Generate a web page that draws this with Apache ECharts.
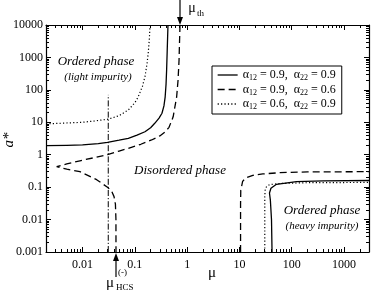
<!DOCTYPE html>
<html><head><meta charset="utf-8">
<script src="https://cdn.jsdelivr.net/npm/echarts@6/dist/echarts.min.js"></script>
<style>html,body{margin:0;padding:0;background:#fff}#c{width:374px;height:292px}</style>
</head><body><div id="c"></div>
<script>
// ---- data ----
const muRange = [0.002, 3000];
const aRange = [0.001, 10000];
const xMajor = [0.01, 0.1, 1, 10, 100, 1000];
const xLabels = ['0.01', '0.1', '1', '10', '100', '1000'];
const yMajor = [0.001, 0.01, 0.1, 1, 10, 100, 1000, 10000];
const yLabels = ['0.001', '0.01', '0.1', '1', '10', '100', '1000', '10000'];
const legendNames = ['c99', 'c96', 'c69'];

// alpha12=0.9, alpha22=0.9 (solid)
const solidLeft = [[0.002, 1.9], [0.005, 1.95], [0.01, 2.0], [0.02, 2.2], [0.03, 2.4], [0.05, 2.8], [0.075, 3.2], [0.11, 4.0], [0.156, 5.1], [0.2, 6.8], [0.24, 9.3], [0.29, 13.5], [0.33, 19], [0.36, 32], [0.38, 61], [0.395, 150], [0.405, 410], [0.415, 1500], [0.43, 10000]];
const solidRight = [[42, 0.001], [41, 0.01], [39, 0.04], [37.5, 0.066], [40, 0.092], [51, 0.122], [123, 0.148], [400, 0.157], [3000, 0.16]];
// alpha12=0.9, alpha22=0.6 (dashed)
const dashedLeft = [[0.73, 10000], [0.71, 2000], [0.70, 830], [0.67, 200], [0.63, 61], [0.54, 14.7], [0.45, 7], [0.38, 5.1], [0.3, 3.8], [0.209, 2.85], [0.13, 2.1], [0.075, 1.58], [0.05, 1.3], [0.03, 1.0], [0.0173, 0.82], [0.0089, 0.65], [0.005, 0.52], [0.0032, 0.43], [0.005, 0.36], [0.0089, 0.3], [0.0186, 0.17], [0.03, 0.099], [0.036, 0.075], [0.04, 0.051], [0.0425, 0.03], [0.0435, 0.01], [0.0436, 0.001]];
const dashedRight = [[10.5, 0.001], [10.5, 0.03], [10.6, 0.08], [11.5, 0.15], [13, 0.19], [18, 0.23], [28, 0.255], [60, 0.28], [200, 0.295], [3000, 0.30]];
// alpha12=0.6, alpha22=0.9 (dotted)
const dottedLeft = [[0.002, 8.9], [0.01, 10], [0.017, 11], [0.031, 12.5], [0.05, 16], [0.075, 24], [0.1, 40], [0.116, 61], [0.14, 130], [0.156, 255], [0.17, 600], [0.18, 1340], [0.19, 4000], [0.195, 10000]];
const dottedRight = [[30.5, 0.001], [30.5, 0.05], [31, 0.08], [33, 0.105], [38, 0.12], [60, 0.13], [200, 0.137], [3000, 0.14]];
// dash-dot guide
const guideLine = [[0.031, 0.001], [0.031, 70]];
const muTh = 0.73;
const muHCS = 0.0436;

// ---- chart ----
const FONT = '"Liberation Serif", "Times New Roman", serif';
const lg = Math.log10;
function minorVals(r) {
  const out = [];
  for (let d = Math.floor(lg(r[0])) - 1; d <= Math.ceil(lg(r[1])); d++) {
    for (let k = 2; k <= 9; k++) {
      const v = k * Math.pow(10, d);
      if (v >= r[0] * 0.9999 && v <= r[1] * 1.0001) out.push(lg(v));
    }
  }
  return out;
}
const xMajLog = xMajor.map(lg), yMajLog = yMajor.map(lg);
const xMinLog = minorVals(muRange), yMinLog = minorVals(aRange);
function labelOf(v, majLog, labels) {
  for (let i = 0; i < majLog.length; i++) if (Math.abs(majLog[i] - v) < 1e-6) return labels[i];
  return '';
}
const axLine = { color: '#000', width: 1.2 };
function decoAxis(pos, range, vals, len, showLine, labels, majLog) {
  return {
    type: 'value', position: pos, min: lg(range[0]), max: lg(range[1]),
    axisLine: { show: showLine, onZero: false, lineStyle: axLine },
    axisTick: { show: true, inside: true, length: len, customValues: vals, lineStyle: { color: '#000', width: 1 } },
    axisLabel: labels ? {
      show: true, customValues: majLog, margin: (pos === 'bottom' ? 7 : 3),
      fontFamily: FONT, fontSize: 12, color: '#000',
      formatter: v => labelOf(v, majLog, labels)
    } : { show: false },
    splitLine: { show: false }
  };
}

const chart = echarts.init(document.getElementById('c'), null, { renderer: 'canvas' });
const lineBase = { type: 'line', xAxisIndex: 0, yAxisIndex: 0, showSymbol: false, symbol: 'none', animation: false, silent: true, clip: true, color: '#000' };
const solidStyle = { color: '#000', width: 1.3, type: 'solid' };
const dashedStyle = { color: '#000', width: 1.3, type: [7, 4] };
const dottedStyle = { color: '#000', width: 1.2, type: [1.2, 2.2] };

chart.setOption({
  backgroundColor: '#fff',
  animation: false,
  grid: { left: 46, right: 5, top: 25, bottom: 40 },
  xAxis: [
    { type: 'log', min: muRange[0], max: muRange[1], show: false },
    decoAxis('bottom', muRange, xMajLog, 5, true, xLabels, xMajLog),
    decoAxis('bottom', muRange, xMinLog, 3, false),
    decoAxis('top', muRange, xMajLog, 5, true),
    decoAxis('top', muRange, xMinLog, 3, false)
  ],
  yAxis: [
    { type: 'log', min: aRange[0], max: aRange[1], show: false },
    decoAxis('left', aRange, yMajLog, 5, true, yLabels, yMajLog),
    decoAxis('left', aRange, yMinLog, 3, false),
    decoAxis('right', aRange, yMajLog, 5, true),
    decoAxis('right', aRange, yMinLog, 3, false)
  ],
  legend: {
    data: legendNames, orient: 'vertical', left: 212, top: 66,
    padding: [3, 6, 3, 5], itemGap: 1.5, itemWidth: 20, itemHeight: 10,
    borderColor: '#000', borderWidth: 1, backgroundColor: '#fff',
    selectedMode: false,
    itemStyle: { color: 'rgba(0,0,0,0)', borderWidth: 0, opacity: 0 },
    lineStyle: { width: 1.3, color: '#000' },
    formatter: function (name) {
      const m = { c99: ['0.9', '0.9'], c96: ['0.9', '0.6'], c69: ['0.6', '0.9'] }[name];
      return '{n|α}{s|12}{n| = ' + m[0] + ',  α}{s|22}{n| = ' + m[1] + '}';
    },
    textStyle: {
      fontFamily: FONT, fontSize: 12, color: '#000',
      rich: {
        n: { fontFamily: FONT, fontSize: 12, lineHeight: 14, color: '#000' },
        s: { fontFamily: FONT, fontSize: 8, lineHeight: 8, verticalAlign: 'bottom', color: '#000' }
      }
    }
  },
  series: [
    Object.assign({ name: 'c99', data: solidLeft, lineStyle: solidStyle }, lineBase),
    Object.assign({ name: 'c96', data: dashedLeft, lineStyle: dashedStyle }, lineBase),
    Object.assign({ name: 'c69', data: dottedLeft, lineStyle: dottedStyle }, lineBase),
    Object.assign({ name: 'c99', data: solidRight, lineStyle: solidStyle }, lineBase),
    Object.assign({ name: 'c96', data: dashedRight, lineStyle: dashedStyle }, lineBase),
    Object.assign({ name: 'c69', data: dottedRight, lineStyle: dottedStyle }, lineBase),
    Object.assign({ name: 'guide', data: guideLine, lineStyle: { color: '#000', width: 1, type: [6, 2, 1.2, 2] } }, lineBase)
  ]
});

// annotations placed through the chart's own scales
const xTh = chart.convertToPixel({ xAxisIndex: 0 }, muTh);
const xH = chart.convertToPixel({ xAxisIndex: 0 }, muHCS);
const yTop = chart.convertToPixel({ yAxisIndex: 0 }, aRange[1]);
const yBot = chart.convertToPixel({ yAxisIndex: 0 }, aRange[0]);
const it = s => 'italic ' + s + 'px ' + FONT;
const rm = s => s + 'px ' + FONT;
function txt(t, x, y, font, align) {
  return { type: 'text', silent: true, z: 10, style: { text: t, x: x, y: y, font: font, fill: '#000', textAlign: align || 'center', textVerticalAlign: 'middle', verticalAlign: 'middle' } };
}
chart.setOption({
  graphic: [
    txt('Ordered phase', 96, 62, it(13)),
    txt('(light impurity)', 98, 77, it(11)),
    txt('Disordered phase', 180, 171, it(13)),
    txt('Ordered phase', 322, 211, it(13)),
    txt('(heavy impurity)', 322, 226, it(11)),
    // y axis name
    { type: 'text', silent: true, rotation: Math.PI / 2, x: 9, y: 140, style: { text: 'a*', font: it(15), fill: '#000', textAlign: 'center', textVerticalAlign: 'middle', verticalAlign: 'middle' } },
    txt('μ', 212, 273, rm(15)),
    // mu_th arrow
    { type: 'line', silent: true, shape: { x1: xTh, y1: 0, x2: xTh, y2: yTop - 6 }, style: { stroke: '#000', lineWidth: 1.2 } },
    { type: 'polygon', silent: true, shape: { points: [[xTh - 3, yTop - 8], [xTh, yTop], [xTh + 3, yTop - 8]] }, style: { fill: '#000' } },
    txt('μ', 192, 8, rm(14)),
    txt('th', 197, 14, rm(9), 'left'),
    // mu_HCS arrow
    { type: 'line', silent: true, shape: { x1: xH, y1: yBot + 6, x2: xH, y2: yBot + 25 }, style: { stroke: '#000', lineWidth: 1.2 } },
    { type: 'polygon', silent: true, shape: { points: [[xH - 3, yBot + 9], [xH, yBot + 1], [xH + 3, yBot + 9]] }, style: { fill: '#000' } },
    txt('μ', 110, 283, rm(15)),
    txt('(-)', 118, 273, rm(9), 'left'),
    txt('HCS', 116, 288, rm(9), 'left')
  ]
});
</script></body></html>
